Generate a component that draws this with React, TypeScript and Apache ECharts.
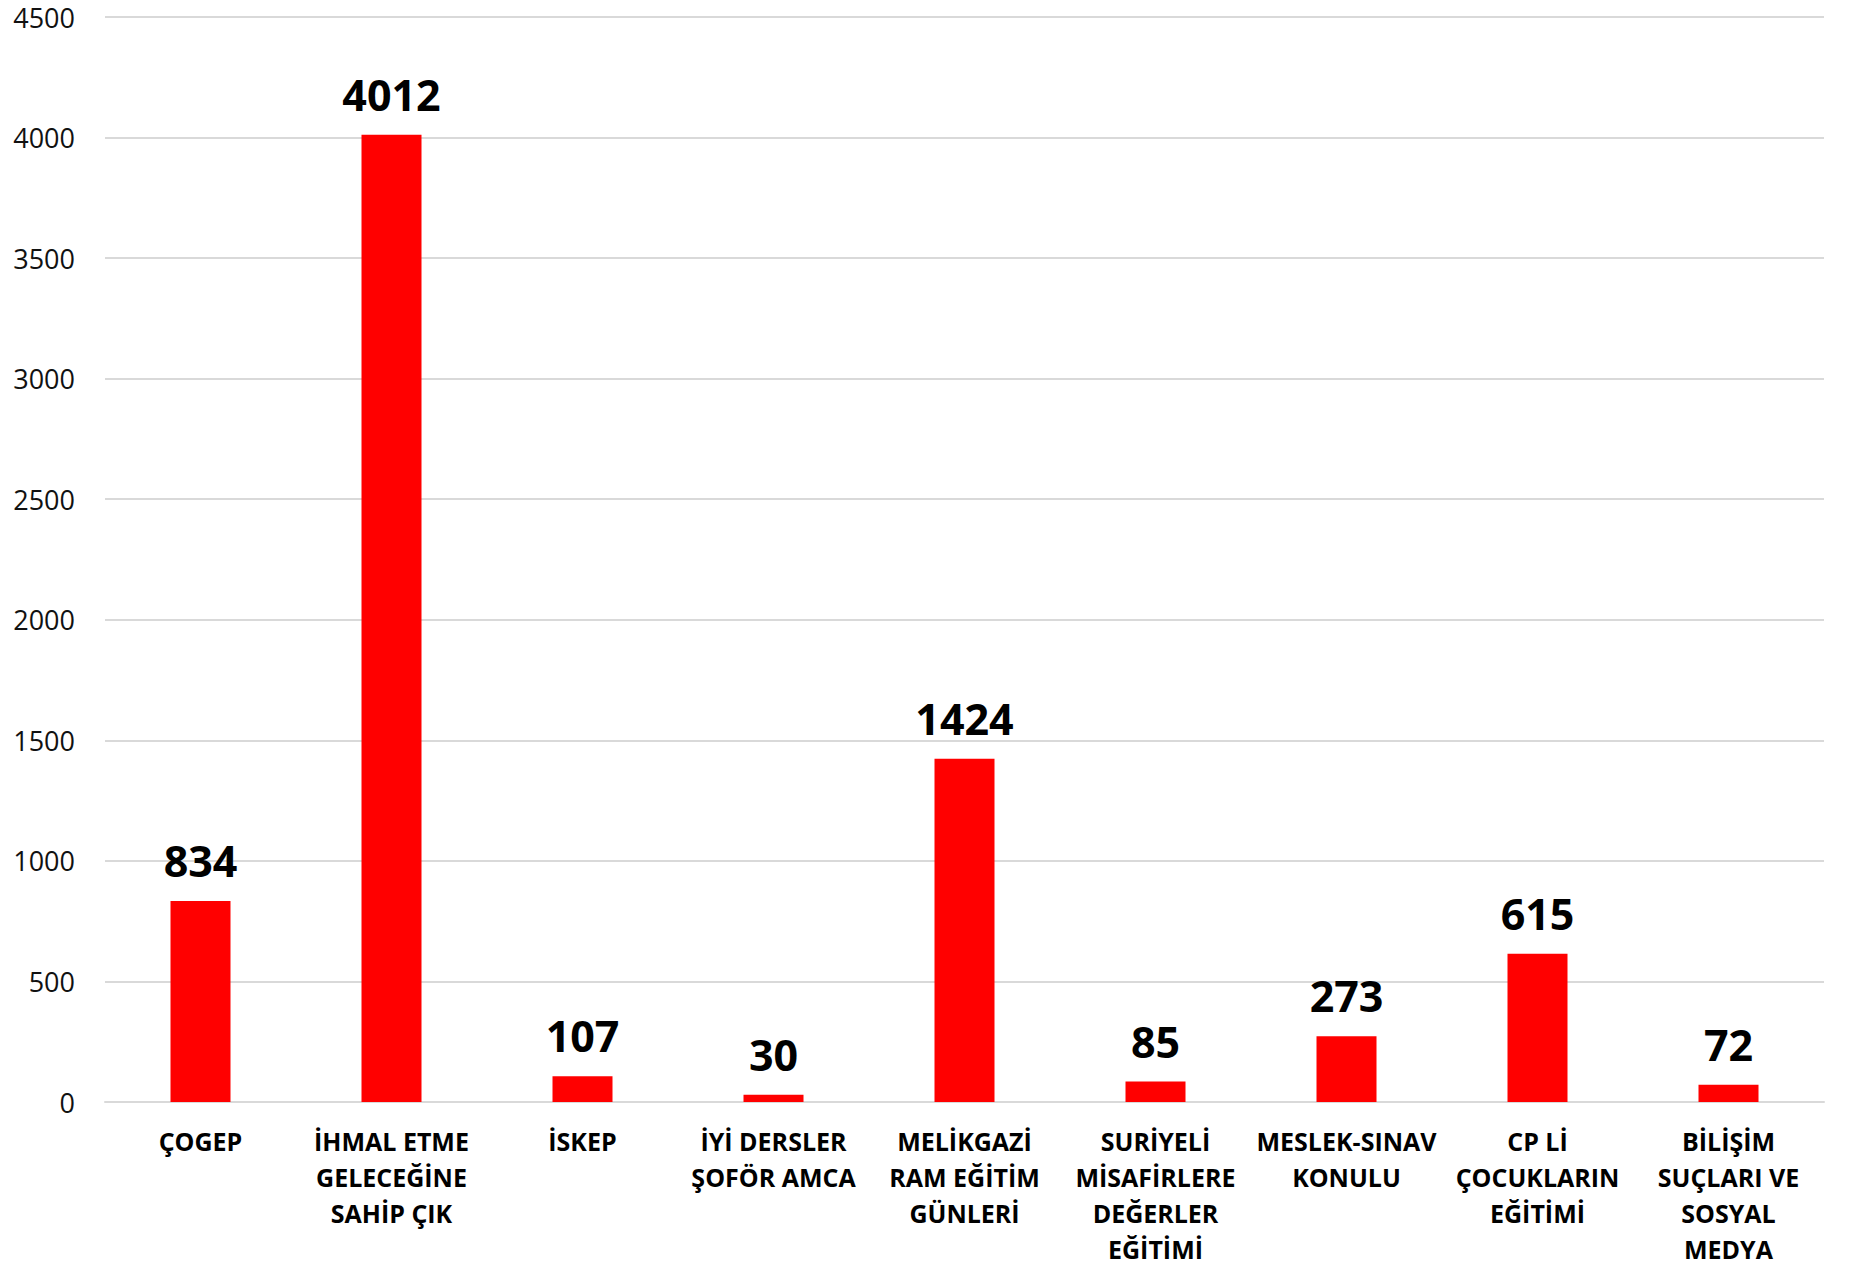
import React, { useEffect, useRef } from "react";
import * as echarts from "echarts";

const categories = [
  "ÇOGEP",
  "İHMAL ETME\nGELECEĞİNE\nSAHİP ÇIK",
  "İSKEP",
  "İYİ DERSLER\nŞOFÖR AMCA",
  "MELİKGAZİ\nRAM EĞİTİM\nGÜNLERİ",
  "SURİYELİ\nMİSAFİRLERE\nDEĞERLER\nEĞİTİMİ",
  "MESLEK-SINAV\nKONULU",
  "CP Lİ\nÇOCUKLARIN\nEĞİTİMİ",
  "BİLİŞİM\nSUÇLARI VE\nSOSYAL\nMEDYA",
];
const values = [834, 4012, 107, 30, 1424, 85, 273, 615, 72];
const yTicks = { min: 0, max: 4500, interval: 500 };

export default function App() {
  const ref = useRef<HTMLDivElement>(null);
  useEffect(() => {
    if (!ref.current) return;
    const chart = echarts.init(ref.current, null, { renderer: "svg" });
    chart.setOption({
      animation: false,
      backgroundColor: "#ffffff",
      grid: { left: 105, right: 27, top: 17, bottom: 161, containLabel: false },
      xAxis: {
        type: "category",
        data: categories,
        axisLine: { show: true, lineStyle: { color: "#d9d9d9", width: 2 } },
        axisTick: { show: false },
        axisLabel: {
          interval: 0,
          color: "#000",
          fontFamily: "Open Sans",
          fontWeight: "bold",
          fontSize: 25,
          lineHeight: 36,
          margin: 21,
        },
      },
      yAxis: {
        type: "value",
        min: yTicks.min,
        max: yTicks.max,
        interval: yTicks.interval,
        axisLine: { show: false },
        axisTick: { show: false },
        splitLine: { lineStyle: { color: "#d9d9d9", width: 2 } },
        axisLabel: {
          color: "#111",
          fontFamily: "Open Sans",
          fontSize: 27,
          lineHeight: 27,
          margin: 30,
          formatter: (v: number) => String(v),
        },
      },
      series: [
        {
          type: "bar",
          data: values,
          barWidth: 60,
          itemStyle: { color: "#ff0000" },
          label: {
            show: true,
            position: "top",
            distance: 19,
            color: "#000",
            fontFamily: "Open Sans",
            fontWeight: "bold",
            fontSize: 43,
          },
        },
      ],
    });
    return () => chart.dispose();
  }, []);
  return (
    <div
      ref={ref}
      style={{ position: "fixed", left: 0, top: 0, width: 1851, height: 1267 }}
    />
  );
}
